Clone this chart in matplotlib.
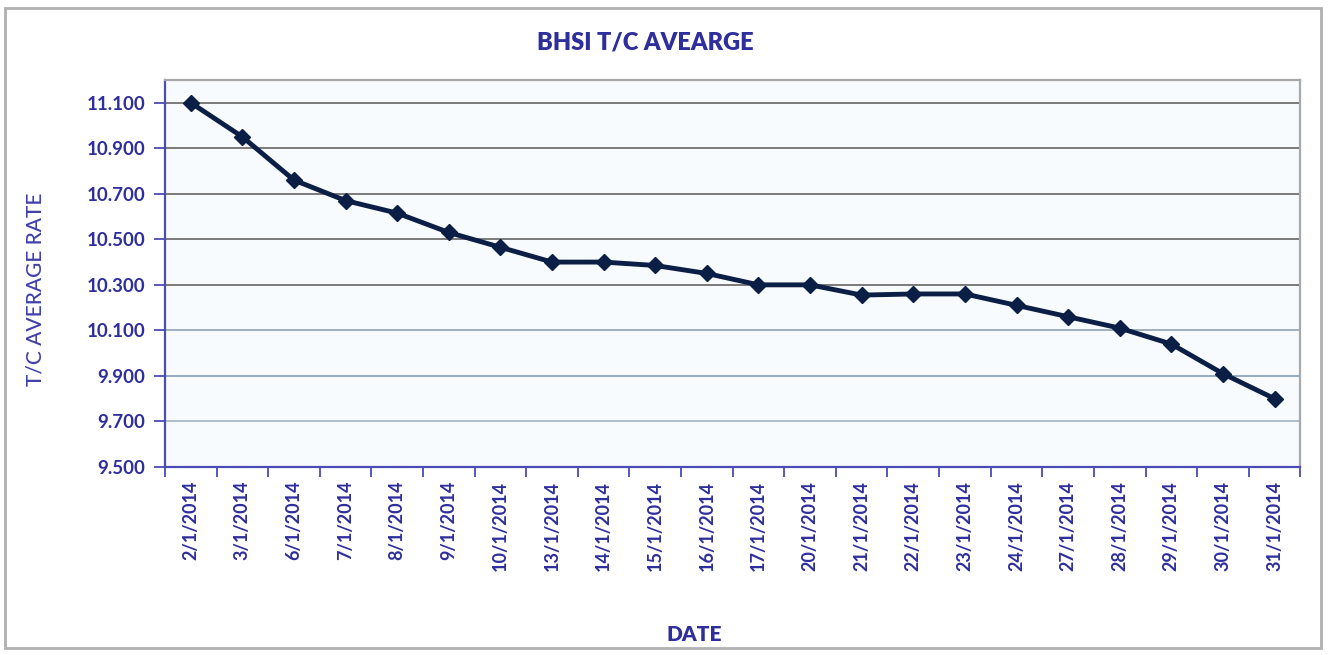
import numpy as np
import matplotlib.pyplot as plt
from matplotlib.patches import Rectangle
from matplotlib.ticker import FixedLocator, FixedFormatter

plt.rcParams['font.family'] = ['Lato', 'DejaVu Sans']

# data
dates = ["2/1/2014", "3/1/2014", "6/1/2014", "7/1/2014", "8/1/2014", "9/1/2014",
         "10/1/2014", "13/1/2014", "14/1/2014", "15/1/2014", "16/1/2014", "17/1/2014",
         "20/1/2014", "21/1/2014", "22/1/2014", "23/1/2014", "24/1/2014", "27/1/2014",
         "28/1/2014", "29/1/2014", "30/1/2014", "31/1/2014"]
rates = [11.10, 10.95, 10.76, 10.67, 10.615, 10.53, 10.465, 10.40, 10.40, 10.385, 10.35,
         10.30, 10.30, 10.255, 10.26, 10.26, 10.21, 10.16, 10.11, 10.04, 9.91, 9.80]
yticks = [9.5, 9.7, 9.9, 10.1, 10.3, 10.5, 10.7, 10.9, 11.1]

blue = "#2e2e9c"
navy = "#0b1e45"

fig = plt.figure(figsize=(13.28, 6.55), dpi=100)
fig.patch.set_facecolor("white")

# outer chart frame
fig.patches.append(Rectangle((0.004, 0.011), 0.991, 0.977, transform=fig.transFigure,
                             fill=False, edgecolor="#b0b0b0", linewidth=2))

ax = fig.add_axes([0.1242, 0.287, 0.855, 0.591])
ax.set_facecolor("#f8fbfd")

x = np.arange(len(dates))
ax.plot(x, rates, color=navy, linewidth=3.5, marker="D", markersize=8,
        markerfacecolor=navy, markeredgecolor=navy, zorder=3)

ax.set_xlim(-0.5, len(dates) - 0.5)
ax.set_ylim(9.5, 11.2)

ax.set_yticks(yticks)
ax.set_yticklabels([f"{v:.3f}" for v in yticks])
ax.yaxis.grid(True, color="#707070", linewidth=1.3)
ax.set_axisbelow(True)
# lower grid lines look bluish in the original
grid_cols = ["#707070", "#a8b8c8", "#8da3bb", "#9aa8b8"]
for gl, c in zip(ax.yaxis.get_gridlines(), grid_cols):
    gl.set_color(c)

# ticks between categories, labels at category centres
ax.xaxis.set_major_locator(FixedLocator(np.arange(-0.5, len(dates), 1)))
ax.xaxis.set_major_formatter(FixedFormatter([""] * (len(dates) + 1)))
ax.xaxis.set_minor_locator(FixedLocator(x))
ax.xaxis.set_minor_formatter(FixedFormatter(dates))
ax.tick_params(axis="x", which="major", direction="out", length=7, width=1.3, color="#4b4bb5")
ax.tick_params(axis="x", which="minor", length=0, pad=10, labelsize=13,
               labelcolor=blue, labelrotation=90)
ax.tick_params(axis="y", direction="out", length=8, width=1.3, color="#4b4bb5",
               labelsize=13.5, labelcolor=blue, pad=6)
for lab in ax.get_yticklabels() + ax.xaxis.get_minorticklabels():
    lab.set_fontweight("bold")

for s in ["left", "bottom"]:
    ax.spines[s].set_color("#4b4bb5")
    ax.spines[s].set_linewidth(1.6)
for s in ["top", "right"]:
    ax.spines[s].set_color("#a8a8a8")
    ax.spines[s].set_linewidth(1.6)

fig.text(0.486, 0.935, "BHSI T/C AVEARGE", ha="center", va="center",
         fontsize=17, fontweight="heavy", color=blue)
fig.text(0.027, 0.559, "T/C AVERAGE RATE", ha="center", va="center", rotation=90,
         fontsize=15, fontweight="medium", color="#4040aa")
fig.text(0.523, 0.031, "DATE", ha="center", va="center",
         fontsize=15, fontweight="heavy", color=blue)

fig.savefig("out.png", dpi=100)
